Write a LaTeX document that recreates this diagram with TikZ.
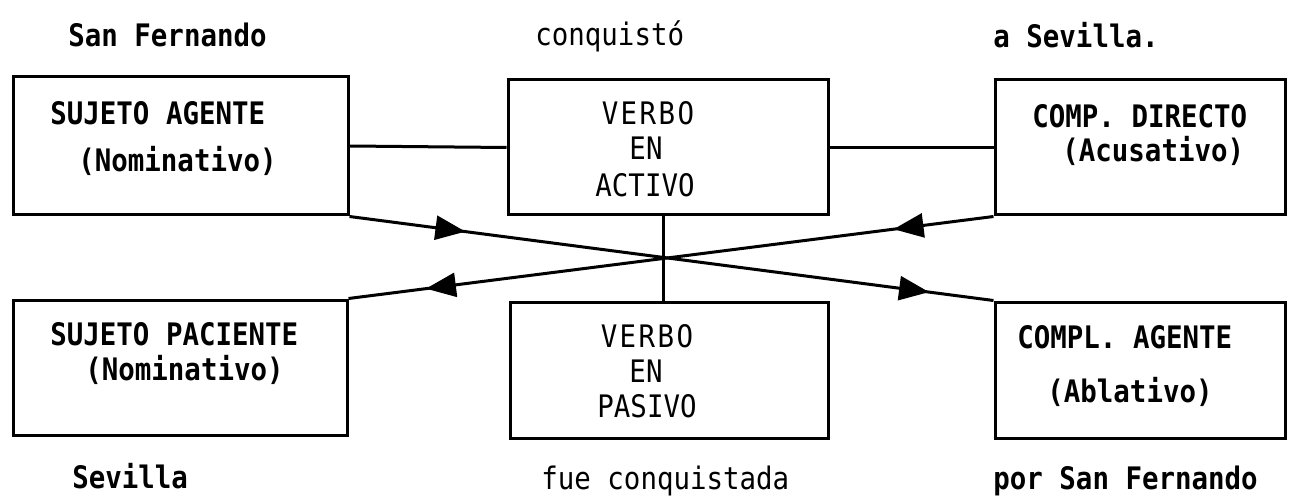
\documentclass[tikz,border=0pt]{standalone}
\usepackage{fontspec}
\newfontfamily\tw[FakeStretch=0.885]{DejaVu Sans Mono}
\newfontfamily\twsp[FakeStretch=0.885,LetterSpace=8]{DejaVu Sans Mono}
\usetikzlibrary{fit,arrows.meta,decorations.markings}
\tikzset{bigtri/.tip={Triangle[length=15pt,width=12pt]}}
\begin{document}
\begin{tikzpicture}[x=0.5pt,y=-0.5pt,
  box/.style={draw,line width=1.5pt,rectangle,inner sep=0pt},
  lbl/.style={inner sep=0pt,font=\tw\fontsize{15.5}{18}\selectfont},
  blbl/.style={inner sep=0pt,font=\tw\bfseries\fontsize{15.5}{18}\selectfont},
  slbl/.style={inner sep=0pt,font=\twsp\fontsize{15.5}{18}\selectfont},
  conn/.style={line width=1.5pt}]
\useasboundingbox (0,0) rectangle (1289,502);
% boxes
\node[box,fit={(13,77) (348,215)}] (tl) {};
\node[box,fit={(508,80) (828,215)}] (tm) {};
\node[box,fit={(995,80) (1285,215)}] (tr) {};
\node[box,fit={(13,300) (347,435)}] (bl) {};
\node[box,fit={(510,302) (828,438)}] (bm) {};
\node[box,fit={(995,302) (1285,438)}] (br) {};
% box texts
\node[blbl,anchor=base west] (t1) at (50,125) {SUJETO AGENTE};
\node[blbl,anchor=base west] (t2) at (78,172) {(Nominativo)};
\node[slbl,anchor=base] (t3) at (648,125) {VERBO};
\node[lbl,anchor=base] (t4) at (646,160) {EN};
\node[lbl,anchor=base] (t5) at (645,197) {ACTIVO};
\node[blbl,anchor=base west] (t6) at (1032,128) {COMP. DIRECTO};
\node[blbl,anchor=base west] (t7) at (1062,162) {(Acusativo)};
\node[blbl,anchor=base west] (t8) at (50,345) {SUJETO PACIENTE};
\node[blbl,anchor=base west] (t9) at (85,380) {(Nominativo)};
\node[slbl,anchor=base] (t10) at (647,347) {VERBO};
\node[lbl,anchor=base] (t11) at (646,382) {EN};
\node[lbl,anchor=base] (t12) at (647,417) {PASIVO};
\node[blbl,anchor=base west] (t13) at (1017,348) {COMPL. AGENTE};
\node[blbl,anchor=base west] (t14) at (1047,402) {(Ablativo)};
% outer labels
\node[blbl,anchor=base west] (o1) at (68,47) {San Fernando};
\node[lbl,anchor=base west] (o2) at (535,46) {conquistó};
\node[blbl,anchor=base west] (o3) at (993,48) {a Sevilla.};
\node[blbl,anchor=base west] (o4) at (72,488) {Sevilla};
\node[lbl,anchor=base west] (o5) at (541,489) {fue conquistada};
\node[blbl,anchor=base west] (o6) at (993,489) {por San Fernando};
% connectors
\draw[conn] (tl.east) -- (tm.west);
\draw[conn] (tm.east) -- (tr.west);
\draw[conn] ([xshift=-2.5pt]tm.south) -- ([xshift=-3pt]bm.north);
\draw[conn,postaction={decorate},decoration={markings,
  mark=at position 0.18 with {\arrow{bigtri}},
  mark=at position 0.90 with {\arrow{bigtri}}}]
  (tl.south east) -- (br.north west);
\draw[conn,postaction={decorate},decoration={markings,
  mark=at position 0.155 with {\arrow{bigtri}},
  mark=at position 0.88 with {\arrow{bigtri}}}]
  (tr.south west) -- (bl.north east);
\end{tikzpicture}
\end{document}
